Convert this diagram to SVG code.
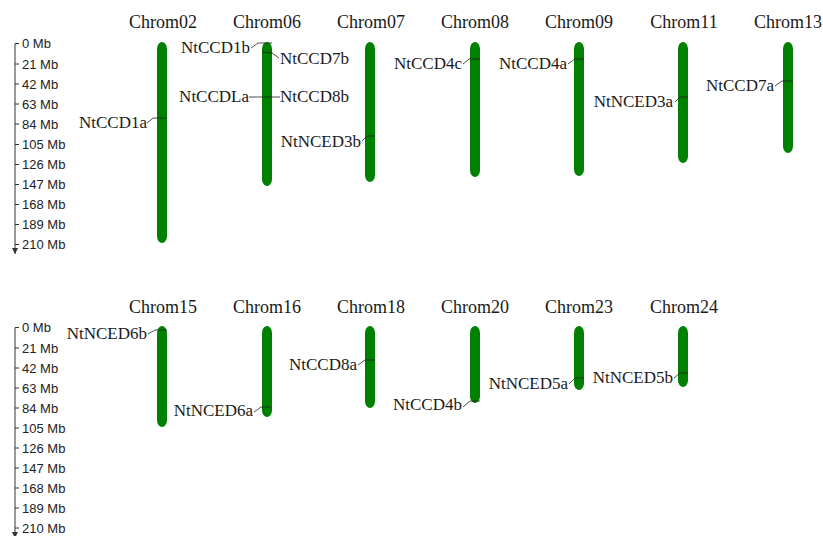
<svg xmlns="http://www.w3.org/2000/svg" width="823" height="536" viewBox="0 0 823 536">
<defs>
<style>
.title{font-family:"Liberation Serif","Times New Roman",serif;font-size:18px;fill:#1a1a1a;text-anchor:middle}
.gene{font-family:"Liberation Serif","Times New Roman",serif;font-size:17px;fill:#1a1a1a}
.gl{text-anchor:end}
.ax{font-family:"Liberation Sans",Arial,sans-serif;font-size:13px;fill:#222}
.chr{fill:#008000}
.axl{stroke:#333;stroke-width:1;fill:none}
.con{stroke:#222;stroke-width:0.8;fill:none}
</style>
<marker id="arr" viewBox="0 0 6 6" refX="6" refY="3" markerWidth="6" markerHeight="6" orient="auto" markerUnits="userSpaceOnUse">
<path d="M0,0 L6,3 L0,6 Z" fill="#333"/>
</marker>
</defs>
<rect width="823" height="536" fill="#fff"/>

<g id="axis-top">
<path class="axl" d="M19,43.5 H15 V254" marker-end="url(#arr)"/>
<path class="axl" d="M15,64 H19 M15,84 H19 M15,104 H19 M15,124 H19 M15,144.5 H19 M15,164.5 H19 M15,184.5 H19 M15,204.5 H19 M15,224.5 H19 M15,244.5 H19"/>
<text class="ax" x="22" y="48">0 Mb</text>
<text class="ax" x="22" y="68.5">21 Mb</text>
<text class="ax" x="22" y="88.5">42 Mb</text>
<text class="ax" x="22" y="108.5">63 Mb</text>
<text class="ax" x="22" y="128.5">84 Mb</text>
<text class="ax" x="22" y="149">105 Mb</text>
<text class="ax" x="22" y="169">126 Mb</text>
<text class="ax" x="22" y="189">147 Mb</text>
<text class="ax" x="22" y="209">168 Mb</text>
<text class="ax" x="22" y="229">189 Mb</text>
<text class="ax" x="22" y="249">210 Mb</text>
</g>

<g id="axis-bottom">
<path class="axl" d="M19,327.5 H15 V538" marker-end="url(#arr)"/>
<path class="axl" d="M15,348 H19 M15,368 H19 M15,388 H19 M15,408 H19 M15,428 H19 M15,448 H19 M15,468 H19 M15,488 H19 M15,508 H19 M15,528 H19"/>
<text class="ax" x="22" y="332">0 Mb</text>
<text class="ax" x="22" y="352.5">21 Mb</text>
<text class="ax" x="22" y="372.5">42 Mb</text>
<text class="ax" x="22" y="392.5">63 Mb</text>
<text class="ax" x="22" y="412.5">84 Mb</text>
<text class="ax" x="22" y="432.5">105 Mb</text>
<text class="ax" x="22" y="452.5">126 Mb</text>
<text class="ax" x="22" y="472.5">147 Mb</text>
<text class="ax" x="22" y="492.5">168 Mb</text>
<text class="ax" x="22" y="512.5">189 Mb</text>
<text class="ax" x="22" y="532.5">210 Mb</text>
</g>

<g id="Chrom02"><text class="title" x="163" y="28">Chrom02</text><rect class="chr" x="157" y="42" width="10" height="201" rx="5" ry="7"/></g>
<g id="Chrom06"><text class="title" x="267" y="28">Chrom06</text><rect class="chr" x="262" y="42" width="10" height="144" rx="5" ry="7"/></g>
<g id="Chrom07"><text class="title" x="371" y="28">Chrom07</text><rect class="chr" x="365" y="42" width="10" height="140" rx="5" ry="7"/></g>
<g id="Chrom08"><text class="title" x="475" y="28">Chrom08</text><rect class="chr" x="470" y="42" width="10" height="135" rx="5" ry="7"/></g>
<g id="Chrom09"><text class="title" x="579" y="28">Chrom09</text><rect class="chr" x="574" y="42" width="10" height="134" rx="5" ry="7"/></g>
<g id="Chrom11"><text class="title" x="684" y="28">Chrom11</text><rect class="chr" x="678" y="42" width="10" height="121" rx="5" ry="7"/></g>
<g id="Chrom13"><text class="title" x="788" y="28">Chrom13</text><rect class="chr" x="783" y="42" width="10" height="111" rx="5" ry="7"/></g>

<g id="Chrom15"><text class="title" x="163" y="313">Chrom15</text><rect class="chr" x="157" y="326" width="10" height="101" rx="5" ry="7"/></g>
<g id="Chrom16"><text class="title" x="267" y="313">Chrom16</text><rect class="chr" x="262" y="326" width="10" height="91" rx="5" ry="7"/></g>
<g id="Chrom18"><text class="title" x="371" y="313">Chrom18</text><rect class="chr" x="365" y="326" width="10" height="82" rx="5" ry="7"/></g>
<g id="Chrom20"><text class="title" x="475" y="313">Chrom20</text><rect class="chr" x="470" y="326" width="10" height="77" rx="5" ry="7"/></g>
<g id="Chrom23"><text class="title" x="579" y="313">Chrom23</text><rect class="chr" x="574" y="326" width="10" height="64" rx="5" ry="7"/></g>
<g id="Chrom24"><text class="title" x="684" y="313">Chrom24</text><rect class="chr" x="678" y="326" width="10" height="61" rx="5" ry="7"/></g>

<g id="connectors">
<polyline class="con" points="147,123 153,118 167,118"/>
<polyline class="con" points="251,48 258,43 272,43"/>
<polyline class="con" points="262,52 272,53 279,58"/>
<polyline class="con" points="249,97 280,97"/>
<polyline class="con" points="362,141 367,136 375,136"/>
<polyline class="con" points="463,64 469,59 480,59"/>
<polyline class="con" points="568,64 575,59 584,59"/>
<polyline class="con" points="675,102 680,97 688,97"/>
<polyline class="con" points="775,86 782,81 793,81"/>
<polyline class="con" points="148,334 155,330 167,330"/>
<polyline class="con" points="254,412 261,407 271,407"/>
<polyline class="con" points="358,365 365,360 375,360"/>
<polyline class="con" points="463,407 470,401 480,401"/>
<polyline class="con" points="569,384 575,378 584,378"/>
<polyline class="con" points="674,378 680,373 688,373"/>
</g>

<g id="NtCCD1a"><text class="gene gl" x="147" y="128">NtCCD1a</text></g>
<g id="NtCCD1b"><text class="gene gl" x="250" y="53">NtCCD1b</text></g>
<g id="NtCCD7b"><text class="gene" x="280" y="64">NtCCD7b</text></g>
<g id="NtCCDLa"><text class="gene gl" x="249" y="102">NtCCDLa</text></g>
<g id="NtCCD8b"><text class="gene" x="280" y="102">NtCCD8b</text></g>
<g id="NtNCED3b"><text class="gene gl" x="361" y="147">NtNCED3b</text></g>
<g id="NtCCD4c"><text class="gene gl" x="462" y="69">NtCCD4c</text></g>
<g id="NtCCD4a"><text class="gene gl" x="567" y="69">NtCCD4a</text></g>
<g id="NtNCED3a"><text class="gene gl" x="673" y="107">NtNCED3a</text></g>
<g id="NtCCD7a"><text class="gene gl" x="774" y="91">NtCCD7a</text></g>
<g id="NtNCED6b"><text class="gene gl" x="147" y="339">NtNCED6b</text></g>
<g id="NtNCED6a"><text class="gene gl" x="253" y="416">NtNCED6a</text></g>
<g id="NtCCD8a"><text class="gene gl" x="357" y="370">NtCCD8a</text></g>
<g id="NtCCD4b"><text class="gene gl" x="462" y="410">NtCCD4b</text></g>
<g id="NtNCED5a"><text class="gene gl" x="568" y="389">NtNCED5a</text></g>
<g id="NtNCED5b"><text class="gene gl" x="673" y="383">NtNCED5b</text></g>
</svg>
